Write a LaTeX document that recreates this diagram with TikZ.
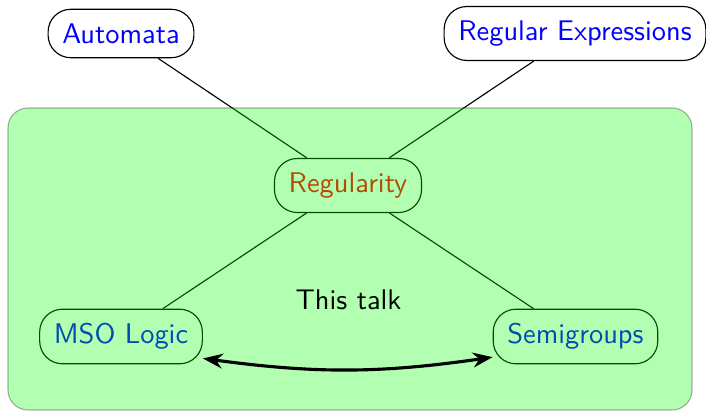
\documentclass[tikz,border=0pt]{standalone}
\usetikzlibrary{arrows.meta, positioning}
\begin{document}
\begin{tikzpicture}[x=0.352pt, y=-0.352pt, font=\sffamily,
    topic/.style={draw, rounded corners=8pt, inner sep=5pt, text=blue}]
    \useasboundingbox (0,0) rectangle (706,411);
    % Topics
    \node[topic] (auto) at (121,33.5) {Automata};
    \node[topic] (regex) at (575,33.5) {Regular Expressions};
    \node[topic, text=red] (reg) at (348,185.5) {Regularity};
    \node[topic] (mso) at (121,336.5) {MSO Logic};
    \node[topic] (semi) at (575.5,336.5) {Semigroups};

    % Links
    \draw (auto) -- (reg);
    \draw (regex) -- (reg);
    \draw (reg) -- (mso);
    \draw (reg) -- (semi);

    % Talk region
    \draw[fill=green, opacity=0.3, rounded corners=7pt] (8,108) rectangle (692,410);
    \node (talk) at (348.5,300) {This talk};
    \draw[{Stealth[length=7pt]}-{Stealth[length=7pt]}, line width=1.1pt] (mso.-15) to[bend right=8] (semi.194);
\end{tikzpicture}
\end{document}
